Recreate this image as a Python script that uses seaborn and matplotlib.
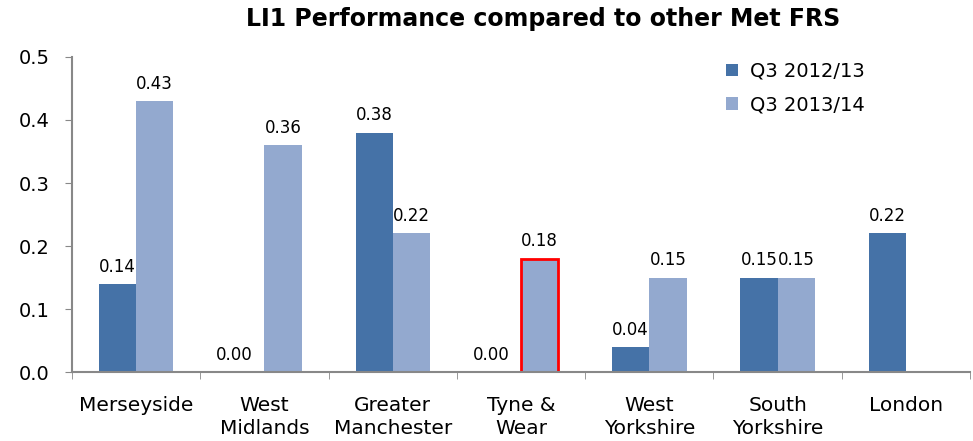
import numpy as np
import pandas as pd
import matplotlib
matplotlib.use('Agg')
import matplotlib.pyplot as plt
import seaborn as sns
from matplotlib.ticker import FixedLocator

# Chart data
services = ['Merseyside', 'West\nMidlands', 'Greater\nManchester', 'Tyne &\nWear',
            'West\nYorkshire', 'South\nYorkshire', 'London']
q3_2012 = [0.14, 0.00, 0.38, 0.00, 0.04, 0.15, 0.22]
q3_2013 = [0.43, 0.36, 0.22, 0.18, 0.15, 0.15, np.nan]
periods = ['Q3 2012/13', 'Q3 2013/14']

df = pd.DataFrame({
    'Service': services * 2,
    'Value': q3_2012 + q3_2013,
    'Period': [periods[0]] * 7 + [periods[1]] * 7,
})

sns.set_style('white')
plt.rcParams['font.family'] = ['DejaVu Sans']

fig = plt.figure(figsize=(9.73, 4.41), dpi=100)
ax = fig.add_axes([0.074, 0.156, 0.923, 0.715])

sns.barplot(data=df, x='Service', y='Value', hue='Period', ax=ax,
            palette=['#4572A7', '#93A9CF'], width=0.58, saturation=1,
            edgecolor='none', linewidth=0)

# value labels (skip the missing London bar); zero labels sit a bit to the left
for cont in ax.containers:
    for bar in cont:
        if bar is None:
            continue
        h = bar.get_height()
        if np.isnan(h):
            continue
        x = bar.get_x() + bar.get_width() / 2
        dx = -8 if h == 0 else 0
        ax.annotate(f'{h:.2f}', (x, h), xytext=(dx, 6), textcoords='offset points',
                    ha='center', va='bottom', fontsize=12, color='black')

# highlight Tyne & Wear current bar
hb = ax.containers[1][3]
hb.set_edgecolor('red')
hb.set_linewidth(2)

ax.set_ylim(0, 0.5)
ax.set_xlim(-0.5, 6.5)
ax.set_yticks(np.arange(0, 0.51, 0.1))
ax.set_yticklabels([f'{v:.1f}' for v in np.arange(0, 0.51, 0.1)])
ax.tick_params(axis='y', labelsize=14, length=5, color='#888888', left=True,
               direction='out', pad=11, labelcolor='black')
ax.tick_params(axis='x', which='major', labelsize=14.5, length=0, pad=17, labelcolor='black')
for lbl in ax.get_xticklabels():
    lbl.set_linespacing(1.3)
ax.xaxis.set_minor_locator(FixedLocator(np.arange(-0.5, 7, 1)))
ax.tick_params(axis='x', which='minor', length=5, color='#888888', bottom=True, direction='out')
ax.set_xlabel('')
ax.set_ylabel('')
for s in ['top', 'right']:
    ax.spines[s].set_visible(False)
for s in ['left', 'bottom']:
    ax.spines[s].set_color('#888888')
    ax.spines[s].set_linewidth(1.5)

leg = ax.legend(loc='upper right', bbox_to_anchor=(0.902, 1.04), frameon=False, fontsize=14,
                handlelength=0.6, handleheight=0.6, handletextpad=0.6, labelspacing=0.75)
for t in leg.get_texts():
    t.set_color('black')

fig.suptitle('LI1 Performance compared to other Met FRS', fontsize=17, fontweight='bold',
             x=0.558, y=0.985, color='black')

fig.savefig('out.png', dpi=100)
